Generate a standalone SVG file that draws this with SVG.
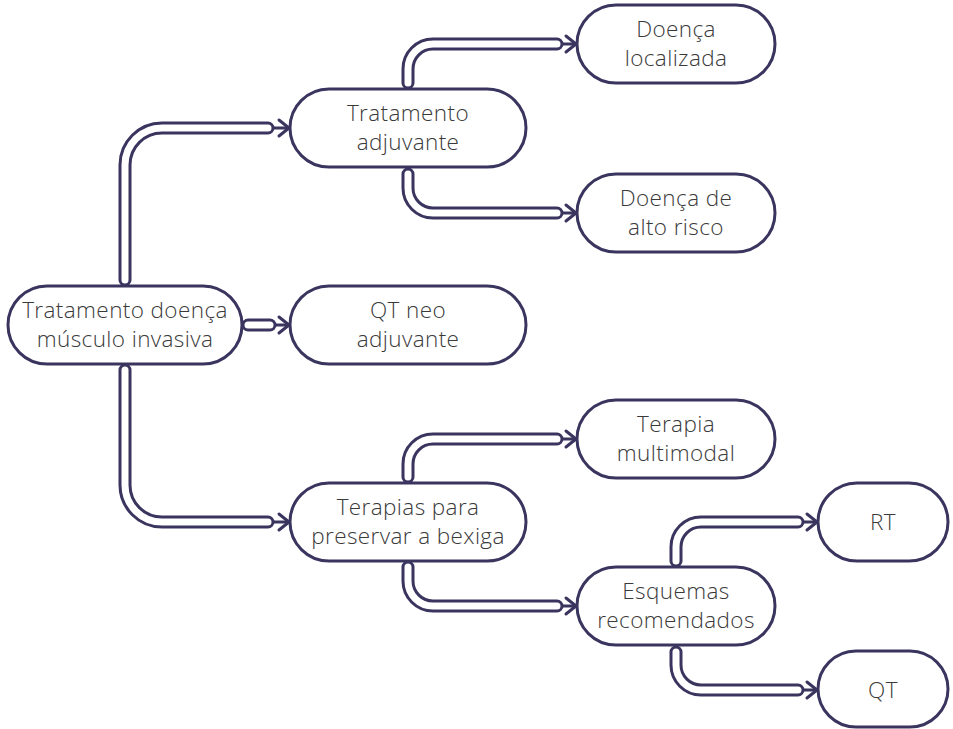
<svg xmlns="http://www.w3.org/2000/svg" width="953" height="729" viewBox="0 0 953 729">
<defs>
<style>
.node rect{fill:#fff;stroke:#3a355f;stroke-width:3}
.node text{font-family:"Open Sans","Liberation Sans",sans-serif;font-weight:300;font-size:22.5px;letter-spacing:0.4px;fill:#3a3a3a;text-anchor:middle}
.tubeo{fill:none;stroke:#3a355f;stroke-width:13;stroke-linecap:round;stroke-linejoin:round}
.tubei{fill:none;stroke:#fff;stroke-width:7;stroke-linecap:round;stroke-linejoin:round}
.thin{fill:none;stroke:#3a355f;stroke-width:3;marker-end:url(#chev)}
</style>
<marker id="chev" markerUnits="userSpaceOnUse" markerWidth="20" markerHeight="20" viewBox="-12 -10 14 20" refX="0" refY="0" orient="auto" overflow="visible">
<path d="M-10,-8 L0,0 L-10,8" fill="none" stroke="#3a355f" stroke-width="3" stroke-linecap="round" stroke-linejoin="round"/>
</marker>
</defs>
<g id="connectors">
<line class="thin" x1="262" y1="128" x2="289" y2="128"/>
<line class="thin" x1="262" y1="325" x2="289" y2="325"/>
<line class="thin" x1="262" y1="522" x2="289" y2="522"/>
<line class="thin" x1="550" y1="44" x2="576" y2="44"/>
<line class="thin" x1="550" y1="213" x2="576" y2="213"/>
<line class="thin" x1="550" y1="439" x2="576" y2="439"/>
<line class="thin" x1="550" y1="606" x2="576" y2="606"/>
<line class="thin" x1="792" y1="522" x2="817" y2="522"/>
<line class="thin" x1="792" y1="690" x2="817" y2="690"/>
<g id="tubes">
<path id="t1" class="tubeo" d="M125,280 V165 A37,37 0 0 1 162,128 H268"/>
<path class="tubei" d="M125,280 V165 A37,37 0 0 1 162,128 H268"/>
<path id="t2" class="tubeo" d="M248,325 H270"/>
<path class="tubei" d="M248,325 H270"/>
<path id="t3" class="tubeo" d="M125,370 V485 A37,37 0 0 0 162,522 H268"/>
<path class="tubei" d="M125,370 V485 A37,37 0 0 0 162,522 H268"/>
<path id="t4" class="tubeo" d="M408,83 V69 A25,25 0 0 1 433,44 H557"/>
<path class="tubei" d="M408,83 V69 A25,25 0 0 1 433,44 H557"/>
<path id="t5" class="tubeo" d="M408,174 V188 A25,25 0 0 0 433,213 H557"/>
<path class="tubei" d="M408,174 V188 A25,25 0 0 0 433,213 H557"/>
<path id="t6" class="tubeo" d="M408,477 V464 A25,25 0 0 1 433,439 H557"/>
<path class="tubei" d="M408,477 V464 A25,25 0 0 1 433,439 H557"/>
<path id="t7" class="tubeo" d="M408,567 V581 A25,25 0 0 0 433,606 H557"/>
<path class="tubei" d="M408,567 V581 A25,25 0 0 0 433,606 H557"/>
<path id="t8" class="tubeo" d="M676,561 V547 A25,25 0 0 1 701,522 H798"/>
<path class="tubei" d="M676,561 V547 A25,25 0 0 1 701,522 H798"/>
<path id="t9" class="tubeo" d="M676,652 V665 A25,25 0 0 0 701,690 H798"/>
<path class="tubei" d="M676,652 V665 A25,25 0 0 0 701,690 H798"/>
</g>
</g>
<g id="n1" class="node"><rect x="8" y="286" width="234" height="78" rx="39"/><text x="125" y="318">Tratamento doença</text><text x="125" y="347">músculo invasiva</text></g>
<g id="n2" class="node"><rect x="290" y="89" width="236" height="78" rx="39"/><text x="408" y="121">Tratamento</text><text x="408" y="150">adjuvante</text></g>
<g id="n3" class="node"><rect x="290" y="286" width="236" height="78" rx="39"/><text x="408" y="318">QT neo</text><text x="408" y="347">adjuvante</text></g>
<g id="n4" class="node"><rect x="290" y="483" width="236" height="78" rx="39"/><text x="408" y="515">Terapias para</text><text x="408" y="544">preservar a bexiga</text></g>
<g id="n5" class="node"><rect x="577" y="5" width="198" height="78" rx="39"/><text x="676" y="37">Doença</text><text x="676" y="66">localizada</text></g>
<g id="n6" class="node"><rect x="577" y="174" width="198" height="78" rx="39"/><text x="676" y="206">Doença de</text><text x="676" y="235">alto risco</text></g>
<g id="n7" class="node"><rect x="577" y="400" width="198" height="78" rx="39"/><text x="676" y="432">Terapia</text><text x="676" y="461">multimodal</text></g>
<g id="n8" class="node"><rect x="577" y="567" width="198" height="78" rx="39"/><text x="676" y="599">Esquemas</text><text x="676" y="628">recomendados</text></g>
<g id="n9" class="node"><rect x="818" y="483" width="130" height="78" rx="39"/><text x="883" y="530">RT</text></g>
<g id="n10" class="node"><rect x="818" y="651" width="130" height="76" rx="38"/><text x="883" y="698">QT</text></g>
</svg>
